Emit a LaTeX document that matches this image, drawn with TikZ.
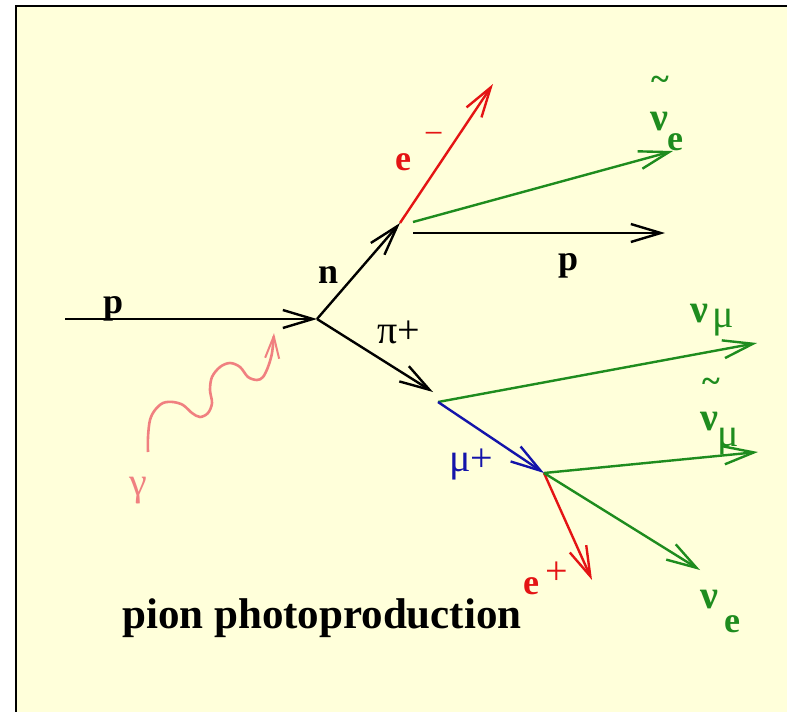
\documentclass[tikz,border=0pt]{standalone}
\usepackage{fontspec}
\setmainfont{Liberation Serif}
\usepackage{xcolor}
\usepackage{tikz}
\usetikzlibrary{arrows.meta,calc}
\definecolor{panelcol}{RGB}{255,255,218}
\definecolor{eleccol}{RGB}{228,20,20}
\definecolor{nucol}{RGB}{30,140,30}
\definecolor{muoncol}{RGB}{20,20,170}
\definecolor{photcol}{RGB}{240,128,128}
\newcommand\lblfont{\fontsize{36}{40}\selectfont\bfseries}
\newcommand\grkfont{\fontsize{40}{44}\selectfont}

\begin{document}
\begin{tikzpicture}[x=1pt, y=-1pt,
    track/.style={line width=2.4pt, -{Straight Barb[length=30pt,width=18pt,line width=2.4pt]}},
    photon/.style={photcol, line width=2.6pt, -{Straight Barb[length=22pt,width=14pt,line width=2pt]}},
    lbl/.style={inner sep=0pt, anchor=base west, font=\lblfont},
    grk/.style={inner sep=0pt, anchor=base west, font=\grkfont},
    nulbl/.style={grk, nucol, font=\grkfont\bfseries},
    tld/.style={inner sep=0pt, anchor=north, font=\fontsize{34}{34}\selectfont\bfseries}]

    \useasboundingbox (0,0) rectangle (787,712);

    %% Panel (only top and left edge inside the frame)
    \fill[panelcol] (16,6) rectangle (787,712);
    \draw[line width=2pt] (16,712) -- (16,6) -- (787,6);

    %% Vertices and free track ends
    \coordinate (pin)     at (65,319);
    \coordinate (vprod)   at (317,319);
    \coordinate (ndec)    at (400,223);
    \coordinate (eminus)  at (493,84);
    \coordinate (nuebar0) at (413,222);
    \coordinate (nuebar)  at (673,151);
    \coordinate (pout0)   at (413,233);
    \coordinate (pout)    at (665,233);
    \coordinate (pitip)   at (433,392);
    \coordinate (pidec)   at (438,402);
    \coordinate (numu)    at (757,343);
    \coordinate (mudec)   at (544,473);
    \coordinate (numubar) at (758,452);
    \coordinate (eplus)   at (592,580);
    \coordinate (nue)     at (700,570);
    \coordinate (gstart)  at (148,452);
    \coordinate (gend)    at (274,333);

    %% Incoming proton, neutron and its decay
    \draw[track] (pin) -- (vprod);
    \draw[track] (vprod) -- (ndec);
    \draw[track, eleccol] (ndec) -- (eminus);
    \draw[track, nucol] (nuebar0) -- (nuebar);
    \draw[track] (pout0) -- (pout);

    %% Pion and muon decay chain
    \draw[track] (vprod) -- (pitip);
    \draw[track, nucol] (pidec) -- (numu);
    \draw[track, muoncol] (pidec) -- (mudec);
    \draw[track, nucol] (mudec) -- (numubar);
    \draw[track, eleccol] (mudec) -- (eplus);
    \draw[track, nucol] (mudec) -- (nue);

    %% Photon (wavy)
    \draw[photon] plot[smooth, tension=0.55] coordinates {(gstart) (148,437) (150,420)
      (155,410) (163,403) (173,402) (183,405) (192,413) (200,417) (208,413)
      (212,403) (210,390) (212,377) (220,367) (230,363) (240,367) (248,377)
      (257,380) (263,377) (268,367) (272,353) (gend)};

    %% Labels
    \node[lbl] (plbl) at (103,313) {p};
    \node[lbl] (nlbl) at (318,283) {n};
    \node[lbl, eleccol] (emlbl) at (395,170) {e};
    \node[grk, eleccol, font=\fontsize{34}{34}\selectfont] (emsup) at (424,144) {−};
    \node[tld, nucol] (nuebartld) at (660,76) {\textasciitilde};
    \node[nulbl] (nuebarlbl) at (650,130) {ν};
    \node[lbl, nucol] (nuebarsub) at (667,150) {e};
    \node[lbl] (poutlbl) at (558,270) {p};
    \node[grk] (pilbl) at (377,343) {π+};
    \node[nulbl] (numulbl) at (690,322) {ν};
    \node[grk, nucol] (numusub) at (712,327) {μ};
    \node[grk, muoncol] (mulbl) at (449,471) {μ+};
    \node[tld, nucol] (numubartld) at (711,378) {\textasciitilde};
    \node[nulbl] (numubarlbl) at (700,430) {ν};
    \node[grk, nucol] (numubarsub) at (717,446) {μ};
    \node[lbl, eleccol] (eplbl) at (523,594) {e};
    \node[grk, eleccol] (epsup) at (545,584) {+};
    \node[nulbl] (nuelbl) at (700,608) {ν};
    \node[lbl, nucol] (nuesub) at (724,632) {e};
    \node[grk, photcol] (glbl) at (129,495) {γ};
    \node[lbl, font=\fontsize{43}{48}\selectfont\bfseries] (title) at (122,628)
      {pion photoproduction};

\end{tikzpicture}
\end{document}
